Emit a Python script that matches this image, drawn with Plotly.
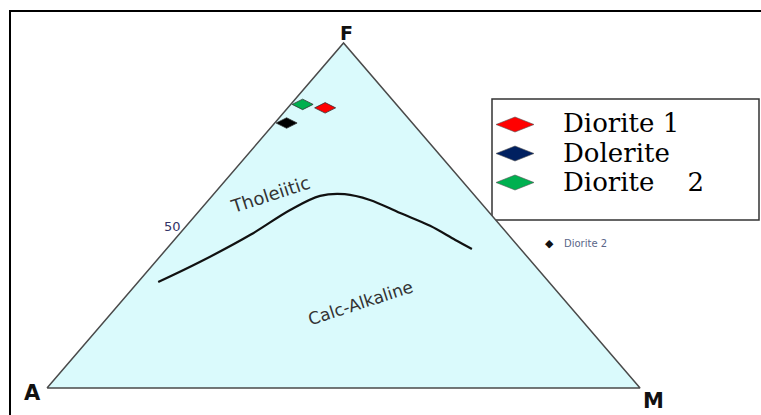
import plotly.graph_objects as go

# Ternary compositions (A, F, M) in percent
sample_names = ["Diorite 1", "Diorite 2", "Dolerite"]
sample_A = [12.5, 15.8, 21.2]
sample_F = [81.2, 82.2, 76.8]
sample_M = [6.3, 2.0, 2.0]
sample_colors = ["#ff0000", "#00b050", "#000000"]

# Tholeiitic / calc-alkaline dividing line (F, M percentages)
curve_F = [30.7, 36.5, 44.4, 51.6, 55.7, 56.2, 54.5, 50.7, 47.0, 42.9, 40.3]
curve_M = [3.4, 7.5, 12.1, 15.2, 18.2, 22.1, 27.2, 34.2, 41.1, 47.4, 51.5]

legend_names = ["Diorite 1", "Dolerite", "Diorite\u00a0\u00a0\u00a0 2"]
legend_colors = ["#ff0000", "#002060", "#00b050"]

W, H = 761, 415


def to_xy(F, M):
    # A at (0,0), M at (100,0), F at (50,100)
    return [m + f / 2 for f, m in zip(F, M)], list(F)


def px(x, y):
    return x / W, 1 - y / H


fig = go.Figure()

# triangle
tri_F = [0, 0, 100, 0]
tri_M = [0, 100, 0, 0]
tx, ty = to_xy(tri_F, tri_M)
fig.add_trace(go.Scatter(x=tx, y=ty, mode="lines", fill="toself",
                         fillcolor="#dafafc", line=dict(color="#4a4a4a", width=1.5),
                         showlegend=False, hoverinfo="skip"))

# curve
cx, cy = to_xy(curve_F, curve_M)
fig.add_trace(go.Scatter(x=cx, y=cy, mode="lines",
                         line=dict(color="#111111", width=2.2, shape="spline"),
                         showlegend=False, hoverinfo="skip"))

# samples
sx, sy = to_xy(sample_F, sample_M)
fig.add_trace(go.Scatter(x=sx, y=sy, mode="markers", showlegend=False, text=sample_names,
                         marker=dict(symbol="diamond-wide", size=15, color=sample_colors,
                                     line=dict(color="#333333", width=0.8))))

annotations = [
    dict(x=50, y=100, text="<b>F</b>", xanchor="center", yanchor="bottom", yshift=-3, xshift=3,
         font=dict(size=19, color="#111111", family="DejaVu Sans")),
    dict(x=0, y=0, text="<b>A</b>", xanchor="right", yanchor="middle", xshift=-4, yshift=-5,
         font=dict(size=21, color="#111111", family="DejaVu Sans")),
    dict(x=100, y=0, text="<b>M</b>", xanchor="center", yanchor="middle", xshift=13, yshift=-13,
         font=dict(size=21, color="#111111", family="DejaVu Sans")),
    dict(x=23.35, y=46.7, text="50", xanchor="right", yanchor="middle", xshift=-2, yshift=0,
         font=dict(size=13, color="#333366", family="DejaVu Sans")),
    dict(x=37.6, y=56.0, text="Tholeiitic", textangle=-18,
         font=dict(size=18, color="#333333", family="DejaVu Sans")),
    dict(x=52.8, y=24.6, text="Calc-Alkaline", textangle=-18,
         font=dict(size=17, color="#333333", family="DejaVu Sans")),
]

# legend box texts
legend_rows = [123.5, 152.5, 181.5]
for name, row in zip(legend_names, legend_rows):
    xp, yp = px(561, row)
    annotations.append(dict(xref="paper", yref="paper", x=xp, y=yp, text=name,
                            xanchor="left", yanchor="middle",
                            font=dict(size=26, color="#000000", family="DejaVu Serif")))

# small stray legend label
xp, yp = px(549, 243)
annotations.append(dict(xref="paper", yref="paper", x=xp, y=yp, text="\u25c6",
                        xanchor="center", yanchor="middle",
                        font=dict(size=11, color="#111111", family="DejaVu Sans")))
xp, yp = px(562, 243)
annotations.append(dict(xref="paper", yref="paper", x=xp, y=yp, text="Diorite 2",
                        xanchor="left", yanchor="middle",
                        font=dict(size=10, color="#5a6688", family="DejaVu Sans")))

for a in annotations:
    a.setdefault("showarrow", False)

bx0, by0 = px(10, 415)
bx1, by1 = px(10, 11)
shapes = [
    dict(type="path", xref="paper", yref="paper",
         path=f"M {bx0} {by0} L {bx1} {by1} L 1 {by1}",
         line=dict(color="#000000", width=2)),
]
lx0, ly0 = px(492, 220)
lx1, ly1 = px(759, 99)
shapes.append(dict(type="rect", xref="paper", yref="paper", x0=lx0, x1=lx1, y0=ly0, y1=ly1,
                   line=dict(color="#333333", width=1.5), fillcolor="white", layer="below"))

# legend keys (wide diamonds)
for col, row in zip(legend_colors, legend_rows):
    cxk, cyk = 515, row + 1
    pts = [px(cxk - 19, cyk), px(cxk, cyk - 7.5), px(cxk + 19, cyk), px(cxk, cyk + 7.5)]
    path = "M " + " L ".join(f"{a} {b}" for a, b in pts) + " Z"
    shapes.append(dict(type="path", xref="paper", yref="paper", path=path,
                       fillcolor=col, line=dict(color="#555555", width=0.6)))

fig.update_layout(
    width=W, height=H, margin=dict(l=0, r=0, t=0, b=0),
    paper_bgcolor="white", plot_bgcolor="rgba(0,0,0,0)",
    xaxis=dict(range=[-7.93, 120.4], visible=False, fixedrange=True),
    yaxis=dict(range=[-7.83, 112.46], visible=False, fixedrange=True),
    annotations=annotations, shapes=shapes, showlegend=False,
)

fig.write_html("out.html", config={"displayModeBar": False},
               post_script="document.body.style.margin='0';document.body.style.overflow='hidden';")
